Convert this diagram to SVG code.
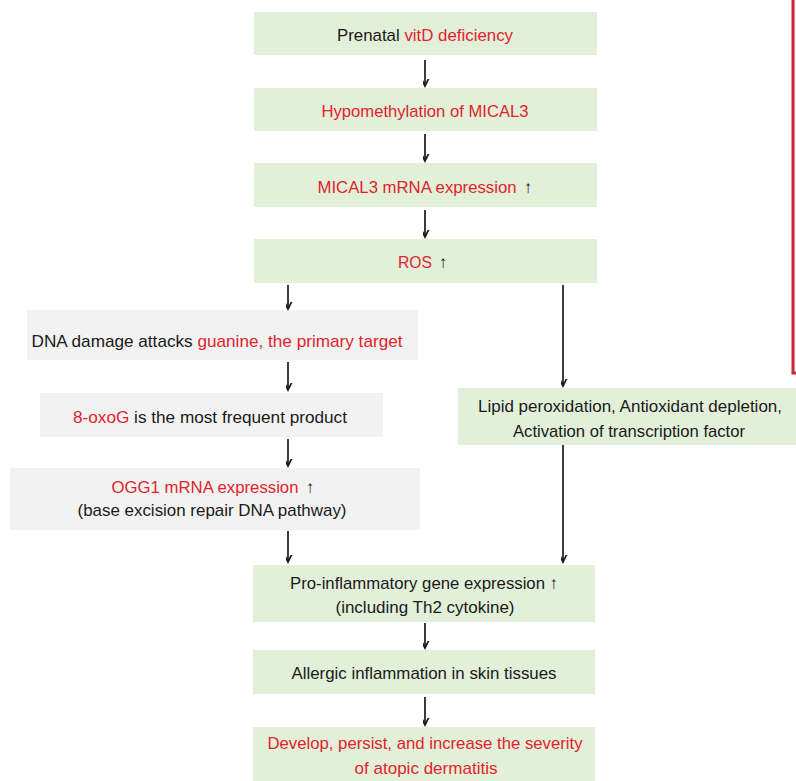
<svg xmlns="http://www.w3.org/2000/svg" width="796" height="781" viewBox="0 0 796 781">
<style>
.g{fill:#e2efd9}
.y{fill:#f2f2f2}
text{font-family:"Liberation Sans",Arial,sans-serif;font-size:17px;fill:#1a1a1a;text-anchor:middle}
.r{fill:#e0242c}
.k{fill:#1a1a1a}
.c{stroke:#1a1a1a;stroke-width:1.7;fill:none;marker-end:url(#ah)}
</style>
<defs>
<marker id="ah" markerWidth="14" markerHeight="14" viewBox="-7 -12 14 14" refX="0" refY="0" markerUnits="userSpaceOnUse" orient="auto-start-reverse">
<path d="M-5,-10 L0,0 L5,-10" transform="rotate(-90)" fill="none" stroke="#1a1a1a" stroke-width="1.7"/>
</marker>
</defs>
<rect x="0" y="0" width="796" height="781" fill="#ffffff"/>
<path d="M793,0 V373 H796" fill="none" stroke="#cc2a32" stroke-width="3"/>
<g id="n1"><rect class="g" x="254" y="12" width="343" height="43"/><text x="425" y="41" textLength="176" lengthAdjust="spacingAndGlyphs">Prenatal <tspan class="r">vitD deficiency</tspan></text></g>
<g id="n2"><rect class="g" x="254" y="88" width="343" height="43"/><text class="r" x="425" y="117" textLength="207" lengthAdjust="spacingAndGlyphs">Hypomethylation of MICAL3</text></g>
<g id="n3"><rect class="g" x="254" y="163" width="343" height="44"/><text class="r" x="417" y="193" textLength="199" lengthAdjust="spacingAndGlyphs">MICAL3 mRNA expression</text><text x="528" y="193">↑</text></g>
<g id="n4"><rect class="g" x="254" y="239" width="343" height="44"/><text class="r" x="415" y="268" textLength="34" lengthAdjust="spacingAndGlyphs">ROS</text><text x="443" y="268">↑</text></g>
<g id="n5"><rect class="y" x="27" y="310" width="391" height="50"/><text x="217" y="347" textLength="371" lengthAdjust="spacingAndGlyphs">DNA damage attacks <tspan class="r">guanine, the primary target</tspan></text></g>
<g id="n6"><rect class="y" x="40" y="393" width="343" height="44"/><text x="210" y="423" textLength="274" lengthAdjust="spacingAndGlyphs"><tspan class="r">8-oxoG</tspan> is the most frequent product</text></g>
<g id="n7"><rect class="y" x="10" y="468" width="410" height="62"/><text class="r" x="205" y="493" textLength="187" lengthAdjust="spacingAndGlyphs">OGG1 mRNA expression</text><text x="310" y="493">↑</text><text x="212" y="516" textLength="269" lengthAdjust="spacingAndGlyphs">(base excision repair DNA pathway)</text></g>
<g id="n8"><rect class="g" x="458" y="388" width="338" height="57"/><text x="630" y="412" textLength="304" lengthAdjust="spacingAndGlyphs">Lipid peroxidation, Antioxidant depletion,</text><text x="629" y="437" textLength="232" lengthAdjust="spacingAndGlyphs">Activation of transcription factor</text></g>
<g id="n9"><rect class="g" x="253" y="565" width="342" height="57"/><text x="424" y="589" textLength="268" lengthAdjust="spacingAndGlyphs">Pro-inflammatory gene expression ↑</text><text x="425" y="613" textLength="179" lengthAdjust="spacingAndGlyphs">(including Th2 cytokine)</text></g>
<g id="n10"><rect class="g" x="253" y="650" width="342" height="44"/><text x="424" y="679" textLength="265" lengthAdjust="spacingAndGlyphs">Allergic inflammation in skin tissues</text></g>
<g id="n11"><rect class="g" x="253" y="727" width="342" height="54"/><text class="r" x="425" y="749" textLength="315" lengthAdjust="spacingAndGlyphs">Develop, persist, and increase the severity</text><text class="r" x="426" y="774" textLength="143" lengthAdjust="spacingAndGlyphs">of atopic dermatitis</text></g>
<g id="connectors">
<line class="c" x1="425" y1="60" x2="425" y2="86"/>
<line class="c" x1="425" y1="134" x2="425" y2="161"/>
<line class="c" x1="425" y1="210" x2="425" y2="237"/>
<line class="c" x1="288" y1="285" x2="288" y2="309"/>
<line class="c" x1="563" y1="285" x2="563" y2="386"/>
<line class="c" x1="288" y1="362" x2="288" y2="390"/>
<line class="c" x1="288" y1="439" x2="288" y2="466"/>
<line class="c" x1="288" y1="531" x2="288" y2="562"/>
<line class="c" x1="563" y1="445" x2="563" y2="562"/>
<line class="c" x1="425" y1="623" x2="425" y2="648"/>
<line class="c" x1="425" y1="697" x2="425" y2="725"/>
</g>
</svg>
